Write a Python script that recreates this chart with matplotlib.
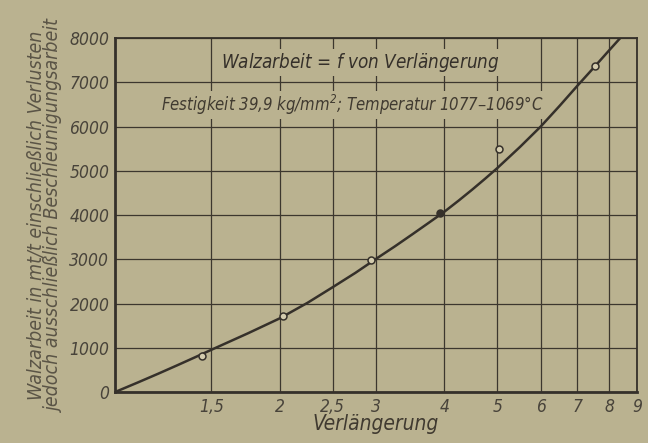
import numpy as np
import matplotlib.pyplot as plt

# Messpunkte
punkte_x = [1.44, 2.03, 2.94, 3.92, 5.04, 7.54]
punkte_y = [810, 1720, 2980, 4050, 5500, 7365]
punkte_voll = [False, False, False, True, False, False]

# Ausgleichskurve
kurve_x = [1.0, 1.1, 1.2, 1.3, 1.4, 1.5, 1.75, 2.0, 2.25, 2.5, 2.75, 3.0,
           3.25, 3.5, 3.75, 4.0, 4.25, 4.5, 4.75, 5.0, 5.5, 6.0, 6.5, 7.0,
           7.5, 8.0, 8.4]
kurve_y = [0, 215, 416, 606, 785, 955, 1328, 1665, 2019, 2370, 2693, 3010,
           3295, 3570, 3830, 4075, 4329, 4578, 4823, 5063, 5540, 6000, 6470, 6920,
           7330, 7720, 8010]

x_ticks = [1.5, 2, 2.5, 3, 4, 5, 6, 7, 8, 9]
x_labels = ["1,5", "2", "2,5", "3", "4", "5", "6", "7", "8", "9"]
y_ticks = [0, 1000, 2000, 3000, 4000, 5000, 6000, 7000, 8000]

papier = "#bab290"
tinte = "#35302a"

plt.rcParams["font.family"] = ["DejaVu Sans"]
plt.rcParams["font.stretch"] = "condensed"
plt.rcParams["font.style"] = "italic"

fig = plt.figure(figsize=(6.48, 4.43), dpi=100, facecolor=papier)
ax = fig.add_axes([0.1775, 0.115, 0.8055, 0.799], facecolor=papier)

ax.set_xscale("log")
ax.set_xlim(1, 9)
ax.set_ylim(0, 8000)
ax.set_xticks(x_ticks)
ax.set_xticklabels(x_labels)
ax.xaxis.set_minor_locator(plt.NullLocator())
ax.set_yticks(y_ticks)
ax.tick_params(length=0, pad=4, labelsize=12.5, colors="#48433a")
ax.grid(True, color="#3c372e", lw=0.9)

for s in ["left", "bottom"]:
    ax.spines[s].set_linewidth(2.0)
for s in ["top", "right"]:
    ax.spines[s].set_linewidth(1.3)
for s in ax.spines.values():
    s.set_color(tinte)

ax.plot(kurve_x, kurve_y, color=tinte, lw=1.8, zorder=3)
for px, py, voll in zip(punkte_x, punkte_y, punkte_voll):
    ax.plot(px, py, "o", ms=5, mew=1.1, mec=tinte,
            mfc=tinte if voll else "#d4ccae", zorder=4)

ax.text(0.47, 0.932, "Walzarbeit = $f$ von Verlängerung", transform=ax.transAxes,
        ha="center", va="center", fontsize=13.5, color=tinte,
        bbox=dict(facecolor=papier, edgecolor="none", pad=1.5), zorder=5)
ax.text(0.455, 0.81, "Festigkeit 39,9 kg/mm$^2$; Temperatur 1077–1069°C",
        transform=ax.transAxes, ha="center", va="center", fontsize=12,
        color="#403a30",
        bbox=dict(facecolor=papier, edgecolor="none", pad=1.5), zorder=5)

ax.set_xlabel("Verlängerung", fontsize=15, color="#403a30", labelpad=-1)
ax.set_ylabel("Walzarbeit in mt/t einschließlich Verlusten\n"
              "jedoch ausschließlich Beschleunigungsarbeit",
              fontsize=14, color="#5a5446", labelpad=4, linespacing=0.95)

fig.savefig("out.png", dpi=100, facecolor=papier)
